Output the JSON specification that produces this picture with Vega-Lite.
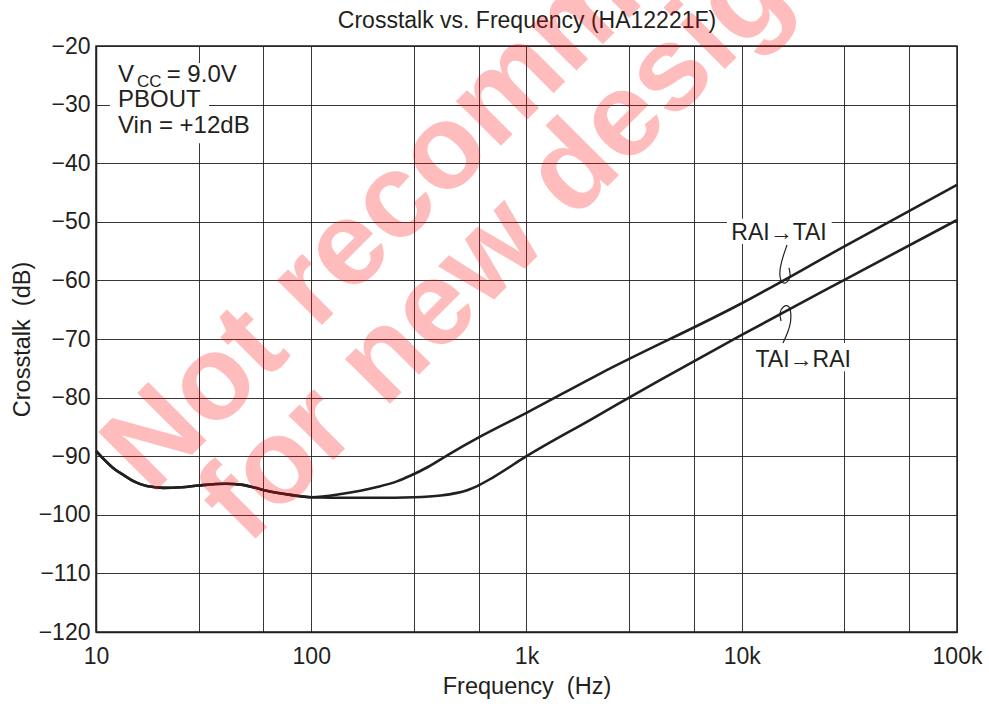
{
  "$schema": "https://vega.github.io/schema/vega-lite/v6.json",
  "width": 861,
  "height": 586,
  "autosize": {"type": "none"},
  "padding": {"left": 96, "top": 46, "right": 32, "bottom": 72},
  "background": "white",
  "config": {
    "view": {"stroke": "#231f20", "strokeWidth": 1.5},
    "axis": {"labelFont": "Liberation Sans", "titleFont": "Liberation Sans", "labelFontSize": 23, "titleFontSize": 23.5, "titleFontWeight": "normal", "labelColor": "#231f20", "titleColor": "#231f20", "gridColor": "#231f20", "gridOpacity": 0.9, "gridWidth": 1, "domainColor": "#231f20", "domainWidth": 1.5, "ticks": false}
  },
  "resolve": {"axis": {"x": "independent"}},
  "datasets": {
    "curves": [
      {"series": "RAI→TAI", "f": 10, "db": -89.1},
      {"series": "RAI→TAI", "f": 12, "db": -92.0},
      {"series": "RAI→TAI", "f": 13.4, "db": -93.2},
      {"series": "RAI→TAI", "f": 15, "db": -94.3},
      {"series": "RAI→TAI", "f": 17.2, "db": -95.1},
      {"series": "RAI→TAI", "f": 20.5, "db": -95.4},
      {"series": "RAI→TAI", "f": 25, "db": -95.3},
      {"series": "RAI→TAI", "f": 30, "db": -95.0},
      {"series": "RAI→TAI", "f": 40, "db": -94.7},
      {"series": "RAI→TAI", "f": 47, "db": -94.85},
      {"series": "RAI→TAI", "f": 55, "db": -95.4},
      {"series": "RAI→TAI", "f": 62, "db": -95.9},
      {"series": "RAI→TAI", "f": 80, "db": -96.6},
      {"series": "RAI→TAI", "f": 100, "db": -97.0},
      {"series": "RAI→TAI", "f": 140, "db": -96.4},
      {"series": "RAI→TAI", "f": 200, "db": -95.3},
      {"series": "RAI→TAI", "f": 250, "db": -94.3},
      {"series": "RAI→TAI", "f": 290, "db": -93.3},
      {"series": "RAI→TAI", "f": 350, "db": -91.8},
      {"series": "RAI→TAI", "f": 440, "db": -89.6},
      {"series": "RAI→TAI", "f": 600, "db": -86.8},
      {"series": "RAI→TAI", "f": 1000, "db": -82.6},
      {"series": "RAI→TAI", "f": 2200, "db": -75.9},
      {"series": "RAI→TAI", "f": 10000, "db": -63.9},
      {"series": "RAI→TAI", "f": 30000, "db": -54.2},
      {"series": "RAI→TAI", "f": 100000, "db": -43.7},
      {"series": "TAI→RAI", "f": 10, "db": -89.1},
      {"series": "TAI→RAI", "f": 12, "db": -92.0},
      {"series": "TAI→RAI", "f": 13.4, "db": -93.2},
      {"series": "TAI→RAI", "f": 15, "db": -94.3},
      {"series": "TAI→RAI", "f": 17.2, "db": -95.1},
      {"series": "TAI→RAI", "f": 20.5, "db": -95.4},
      {"series": "TAI→RAI", "f": 25, "db": -95.3},
      {"series": "TAI→RAI", "f": 30, "db": -95.0},
      {"series": "TAI→RAI", "f": 40, "db": -94.7},
      {"series": "TAI→RAI", "f": 47, "db": -94.85},
      {"series": "TAI→RAI", "f": 55, "db": -95.4},
      {"series": "TAI→RAI", "f": 62, "db": -95.9},
      {"series": "TAI→RAI", "f": 80, "db": -96.6},
      {"series": "TAI→RAI", "f": 100, "db": -97.0},
      {"series": "TAI→RAI", "f": 150, "db": -97.1},
      {"series": "TAI→RAI", "f": 200, "db": -97.1},
      {"series": "TAI→RAI", "f": 300, "db": -97.0},
      {"series": "TAI→RAI", "f": 400, "db": -96.7},
      {"series": "TAI→RAI", "f": 470, "db": -96.3},
      {"series": "TAI→RAI", "f": 530, "db": -95.8},
      {"series": "TAI→RAI", "f": 590, "db": -95.1},
      {"series": "TAI→RAI", "f": 700, "db": -93.6},
      {"series": "TAI→RAI", "f": 1000, "db": -90.0},
      {"series": "TAI→RAI", "f": 2000, "db": -83.7},
      {"series": "TAI→RAI", "f": 4170, "db": -77.0},
      {"series": "TAI→RAI", "f": 10000, "db": -69.3},
      {"series": "TAI→RAI", "f": 30000, "db": -59.9},
      {"series": "TAI→RAI", "f": 100000, "db": -49.7}
    ],
    "squig": [
      {"id": "a", "i": 0, "f": 16226, "db": -53.96},
      {"id": "a", "i": 1, "f": 15230, "db": -56.86},
      {"id": "a", "i": 2, "f": 14900, "db": -59.08},
      {"id": "a", "i": 3, "f": 15380, "db": -60.61},
      {"id": "a", "i": 4, "f": 16226, "db": -60.44},
      {"id": "a", "i": 5, "f": 16940, "db": -59.42},
      {"id": "a", "i": 6, "f": 16578, "db": -57.88},
      {"id": "b", "i": 0, "f": 15230, "db": -66.93},
      {"id": "b", "i": 1, "f": 14900, "db": -65.56},
      {"id": "b", "i": 2, "f": 15545, "db": -64.37},
      {"id": "b", "i": 3, "f": 16578, "db": -64.2},
      {"id": "b", "i": 4, "f": 16940, "db": -65.39},
      {"id": "b", "i": 5, "f": 16940, "db": -67.1},
      {"id": "b", "i": 6, "f": 16403, "db": -68.81},
      {"id": "b", "i": 7, "f": 15545, "db": -70.68}
    ],
    "boxes": [
      {"f1": 11.6, "f2": 53, "d1": -22.9, "d2": -28.3},
      {"f1": 11.6, "f2": 33.5, "d1": -28.3, "d2": -31.6},
      {"f1": 11.6, "f2": 56, "d1": -31.6, "d2": -36.6},
      {"f1": 8530, "f2": 26200, "d1": -49.5, "d2": -53.8},
      {"f1": 11300, "f2": 32900, "d1": -70.7, "d2": -75.5}
    ],
    "labels": [
      {"text": "V", "f": 12.65, "db": -26.1},
      {"text": "= 9.0V", "f": 21.3, "db": -26.1},
      {"text": "PBOUT", "f": 12.65, "db": -30.4},
      {"text": "Vin = +12dB", "f": 12.65, "db": -34.9}
    ],
    "curvelabels": [
      {"text": "RAI→TAI", "f": 14900, "db": -53.1},
      {"text": "TAI→RAI", "f": 19300, "db": -74.7}
    ],
    "subs": [
      {"text": "CC", "f": 15.5, "db": -27.0}
    ],
    "wm": [
      {"text": "Not recommended", "f": 18.0, "db": -96.8},
      {"text": "for new design", "f": 50.5, "db": -105.4}
    ]
  },
  "layer": [
    {
      "data": {"name": "boxes"},
      "mark": {"type": "rect", "fill": "white", "stroke": null},
      "encoding": {
        "x": {"field": "f1", "type": "quantitative", "scale": {"type": "log", "domain": [10, 100000]},
          "axis": {"values": [10, 30, 60, 100, 300, 600, 1000, 3000, 6000, 10000, 30000, 60000, 100000], "grid": true, "title": "Frequency\u00a0 (Hz)", "labelOverlap": false, "labelFlush": false, "labelPadding": 13, "titlePadding": 6,
            "labelExpr": "datum.value == 10 ? '10' : datum.value == 100 ? '100' : datum.value == 1000 ? '1k' : datum.value == 10000 ? '10k' : datum.value == 100000 ? '100k' : ''"}},
        "x2": {"field": "f2"},
        "y": {"field": "d1", "type": "quantitative", "scale": {"domain": [-120, -20]},
          "axis": {"values": [-120, -110, -100, -90, -80, -70, -60, -50, -40, -30, -20], "grid": true, "title": "Crosstalk\u00a0 (dB)", "labelPadding": 6, "titlePadding": 4, "labelOverlap": false, "labelFlush": false}},
        "y2": {"field": "d2"}
      }
    },
    {
      "data": {"name": "curves"},
      "mark": {"type": "line", "interpolate": "monotone", "stroke": "#231f20", "strokeWidth": 2.6},
      "encoding": {
        "x": {"field": "f", "type": "quantitative",
          "axis": {"orient": "top", "title": "Crosstalk vs. Frequency (HA12221F)", "titleFontSize": 23, "labels": false, "domain": false, "ticks": false, "grid": false, "titlePadding": 14}},
        "y": {"field": "db", "type": "quantitative"},
        "detail": {"field": "series"}
      }
    },
    {
      "data": {"name": "squig"},
      "mark": {"type": "line", "interpolate": "basis", "stroke": "#231f20", "strokeWidth": 1.2},
      "encoding": {
        "x": {"field": "f", "type": "quantitative", "axis": null},
        "y": {"field": "db", "type": "quantitative"},
        "detail": {"field": "id"},
        "order": {"field": "i", "type": "quantitative"}
      }
    },
    {
      "data": {"name": "labels"},
      "mark": {"type": "text", "align": "left", "baseline": "alphabetic", "font": "Liberation Sans", "fontSize": 24, "fill": "#231f20"},
      "encoding": {
        "x": {"field": "f", "type": "quantitative", "axis": null},
        "y": {"field": "db", "type": "quantitative"},
        "text": {"field": "text"}
      }
    },
    {
      "data": {"name": "curvelabels"},
      "mark": {"type": "text", "align": "center", "baseline": "alphabetic", "font": "Liberation Sans", "fontSize": 23, "fill": "#231f20"},
      "encoding": {
        "x": {"field": "f", "type": "quantitative", "axis": null},
        "y": {"field": "db", "type": "quantitative"},
        "text": {"field": "text"}
      }
    },
    {
      "data": {"name": "subs"},
      "mark": {"type": "text", "align": "left", "baseline": "alphabetic", "font": "Liberation Sans", "fontSize": 17, "fill": "#231f20"},
      "encoding": {
        "x": {"field": "f", "type": "quantitative", "axis": null},
        "y": {"field": "db", "type": "quantitative"},
        "text": {"field": "text"}
      }
    },
    {
      "data": {"name": "wm"},
      "mark": {"type": "text", "align": "left", "baseline": "alphabetic", "angle": -45, "font": "Liberation Sans", "fontWeight": "bold", "fontSize": 120, "fill": "#ff0000", "opacity": 0.26},
      "encoding": {
        "x": {"field": "f", "type": "quantitative", "axis": null},
        "y": {"field": "db", "type": "quantitative"},
        "text": {"field": "text"}
      }
    }
  ]
}
